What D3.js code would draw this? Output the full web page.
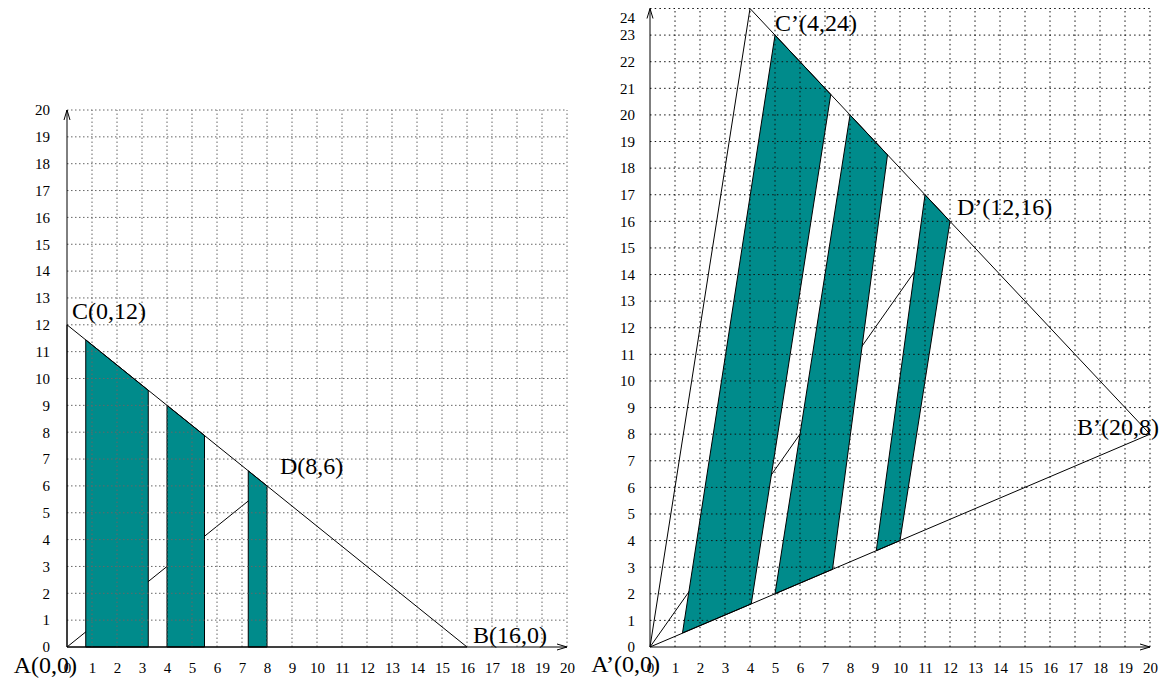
<!DOCTYPE html>
<html>
<head>
<meta charset="utf-8">
<script src="https://cdn.jsdelivr.net/npm/d3@7"></script>
<style>
body{margin:0;background:#fff;}
svg{display:block;font-family:"Liberation Serif","Times New Roman",serif;}
.edge{fill:none;stroke:#000;stroke-width:1;}
.bar{fill:#008b8b;stroke:#000;stroke-width:1;stroke-linejoin:round;}
.lbl text{font-size:15px;font-family:"Liberation Serif",serif;}
.pt{font-size:24px;}
</style>
</head>
<body>
<svg width="1162" height="682"></svg>
<script>
// tick labels
var ticks20=[0,1,2,3,4,5,6,7,8,9,10,11,12,13,14,15,16,17,18,19,20];
var ticks24=[0,1,2,3,4,5,6,7,8,9,10,11,12,13,14,15,16,17,18,19,20,21,22,23,24];

// left figure: triangle A B C, D middle of BC
var leftTri=[[0,0],[16,0],[0,12]];
var leftMid=[8,6];
var leftNames=["A(0,0)","B(16,0)","C(0,12)","D(8,6)"];
// bars: x from / to, height at each side
var barX0=[0.75,4,7.25];
var barX1=[3.25,5.5,8];
var barTop0=[11.44,9,6.56];
var barTop1=[9.56,7.88,6];

// right figure: image of the left one
var rightTri=[[0,0],[20,8],[4,24]];
var rightMid=[12,16];
var rightNames=["A’(0,0)","B’(20,8)","C’(4,24)","D’(12,16)"];
var rightBars=[
  [[1.3,0.53],[4.05,1.62],[7.23,20.77],[5,23]],
  [[5,2],[7.3,2.92],[9.5,18.5],[8,20]],
  [[9.05,3.62],[10,4],[12,16],[11,17]]
];

var svg=d3.select("svg");
svg.append("rect").attr("width",1162).attr("height",682).attr("fill","#fff");

function figure(o){
  var x=d3.scaleLinear().domain([0,20]).range(o.xr);
  var y=d3.scaleLinear().domain([0,o.ymax]).range(o.yr);
  var g=svg.append("g");
  var line=d3.line().x(d=>x(d[0])).y(d=>y(d[1]));

  // median A-D, hidden under the bars
  g.append("path").attr("class","edge").attr("d",line([[0,0],o.mid]));

  g.selectAll(".bar").data(o.bars).join("path").attr("class","bar")
    .attr("d",d=>line(d)+"Z");

  // dotted grid
  var grid=g.append("g").attr("stroke",o.gridColor).attr("stroke-dasharray",o.dash);
  grid.selectAll(".v").data(ticks20.slice(1)).join("line")
    .attr("x1",d=>x(d)).attr("x2",d=>x(d)).attr("y1",y(0)).attr("y2",y(o.ymax));
  grid.selectAll(".h").data(o.yt.slice(1)).join("line")
    .attr("x1",x(0)).attr("x2",x(20)).attr("y1",d=>y(d)).attr("y2",d=>y(d));

  // triangle
  g.append("path").attr("class","edge").attr("d",line(o.tri)+"Z");

  // axes with arrows
  var x0=x(0),y0=y(0),xe=x(20),ye=y(o.ymax);
  g.append("path").attr("class","edge")
    .attr("d","M"+x0+","+y0+"H"+xe+"M"+x0+","+y0+"V"+ye);
  g.append("path").attr("class","edge").attr("stroke-width",1.3)
    .attr("d","M"+(xe-10)+","+(y0-3)+"L"+xe+","+y0+"L"+(xe-10)+","+(y0+3)+
      "M"+(x0-3)+","+(ye+10)+"L"+x0+","+ye+"L"+(x0+3)+","+(ye+10));

  var xa=g.append("g").attr("class","lbl").attr("transform","translate(0,"+y0+")")
    .call(d3.axisBottom(x).tickValues(ticks20).tickSize(0).tickPadding(15).tickFormat(d3.format("d")));
  var ya=g.append("g").attr("class","lbl").attr("transform","translate("+x0+",0)")
    .call(d3.axisLeft(y).tickValues(o.yt).tickSize(0).tickPadding(o.ypad).tickFormat(d3.format("d")));
  [xa,ya].forEach(a=>{a.attr("font-size",null).attr("font-family",null);a.select(".domain").remove();});
  // top label sits a little under its line
  if(o.topNudge) ya.selectAll(".tick").filter(d=>d===o.ymax).select("text").attr("dy","0.32em").attr("y",o.topNudge);

  // point names
  var pts=[o.tri[0],o.tri[1],o.tri[2],o.mid];
  g.selectAll(".pt").data(pts).join("text").attr("class","pt")
    .attr("x",d=>x(d[0])).attr("y",d=>y(d[1]))
    .attr("dx",(d,i)=>o.off[i][0]).attr("dy",(d,i)=>o.off[i][1])
    .attr("text-anchor",(d,i)=>o.anchor[i])
    .text((d,i)=>o.names[i]);
}

figure({
  xr:[67,567],yr:[647,110],ymax:20,yt:ticks20,ypad:17,
  tri:leftTri,mid:leftMid,names:leftNames,
  bars:barX0.map((a,i)=>[[a,0],[barX1[i],0],[barX1[i],barTop1[i]],[a,barTop0[i]]]),
  gridColor:"#666",dash:"1.5,2.5",
  off:[[10,26],[6,-4],[5,-6],[13,-12]],anchor:["end","start","start","start"]
});
figure({
  xr:[650,1150],yr:[647,8.5],ymax:24,yt:ticks24,ypad:15,topNudge:9,
  tri:rightTri,mid:rightMid,names:rightNames,bars:rightBars,
  gridColor:"#111",dash:"1.5,3.2",
  off:[[10,25],[9,1],[25,22],[7,-6]],anchor:["end","end","start","start"]
});
</script>
</body>
</html>
